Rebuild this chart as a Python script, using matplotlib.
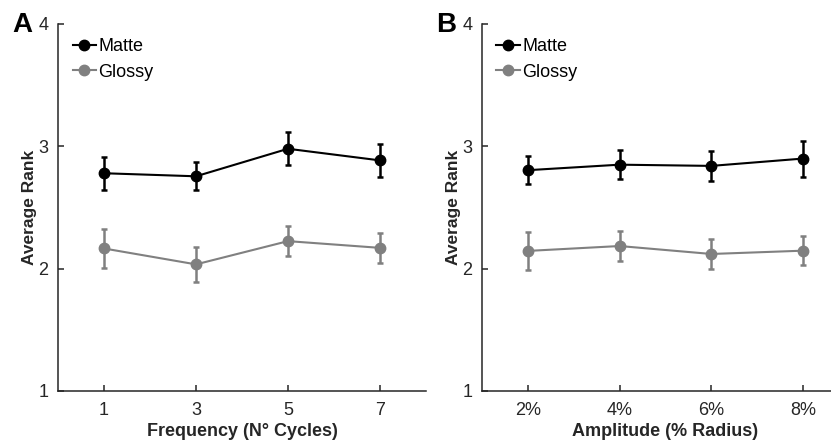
import matplotlib
matplotlib.use("Agg")
import matplotlib.pyplot as plt
from matplotlib.lines import Line2D

plt.rcParams['font.family'] = ['Liberation Sans', 'DejaVu Sans']

# Panel A: frequency conditions
freq_x = [1, 3, 5, 7]
freq_labels = ["1", "3", "5", "7"]
freq_matte = [2.78, 2.755, 2.98, 2.885]
freq_matte_err = [0.135, 0.115, 0.135, 0.135]
freq_glossy = [2.165, 2.035, 2.225, 2.17]
freq_glossy_err = [0.16, 0.14, 0.12, 0.125]

# Panel B: amplitude conditions
amp_x = [1, 2, 3, 4]
amp_labels = ["2%", "4%", "6%", "8%"]
amp_matte = [2.805, 2.85, 2.84, 2.9]
amp_matte_err = [0.117, 0.12, 0.12, 0.147]
amp_glossy = [2.145, 2.185, 2.12, 2.147]
amp_glossy_err = [0.155, 0.12, 0.12, 0.12]

MATTE_C = "#000000"
GLOSSY_C = "#808080"
AX_C = "#262626"

fig = plt.figure(figsize=(8.31, 4.41), dpi=100)
axA = fig.add_axes([0.0698, 0.1134, 0.4428, 0.8322])
axB = fig.add_axes([0.5800, 0.1134, 0.4416, 0.8322])


def draw_panel(ax, x, matte, matte_err, glossy, glossy_err, labels, xlim, xlabel, letter):
    for y, e, c in [(matte, matte_err, MATTE_C), (glossy, glossy_err, GLOSSY_C)]:
        ax.errorbar(x, y, yerr=e, color=c, ecolor=c, lw=1.5, elinewidth=1.8,
                    capsize=2.5, capthick=1.8, marker='o', markersize=7.5,
                    markeredgecolor=c, markerfacecolor=c, clip_on=False)
    ax.set_xlim(*xlim)
    ax.set_ylim(1, 4)
    ax.set_yticks([1, 2, 3, 4])
    ax.set_xticks(x)
    ax.set_xticklabels(labels)
    for s in ['top', 'right']:
        ax.spines[s].set_visible(False)
    for s in ['left', 'bottom']:
        ax.spines[s].set_color(AX_C)
        ax.spines[s].set_linewidth(1.1)
    ax.tick_params(direction='in', length=4, width=1.1, color=AX_C,
                   labelcolor=AX_C, labelsize=13)
    ax.tick_params(axis='x', pad=8)
    ax.tick_params(axis='y', pad=7)
    ax.set_ylabel("Average Rank", fontsize=12.5, fontweight='bold', color=AX_C, labelpad=1)
    ax.set_xlabel(xlabel, fontsize=13, fontweight='bold', color=AX_C, labelpad=3)
    handles = [
        Line2D([], [], color=MATTE_C, lw=1.5, marker='o', markersize=7.5),
        Line2D([], [], color=GLOSSY_C, lw=1.5, marker='o', markersize=7.5),
    ]
    ax.legend(handles, ["Matte", "Glossy"], loc='upper left', frameon=False,
              fontsize=13, handlelength=1.3, handletextpad=0.12,
              labelspacing=0.45, borderaxespad=0.2, bbox_to_anchor=(0.01, 0.99))
    ax.text(-0.098, 0.997, letter, transform=ax.transAxes, fontsize=20,
            fontweight='bold', ha='center', va='center', color='black')


draw_panel(axA, freq_x, freq_matte, freq_matte_err, freq_glossy, freq_glossy_err,
           freq_labels, (0, 8), "Frequency (N\u00b0 Cycles)", "A")
draw_panel(axB, amp_x, amp_matte, amp_matte_err, amp_glossy, amp_glossy_err,
           amp_labels, (0.5, 4.5), "Amplitude (% Radius)", "B")

fig.savefig("out.png", dpi=100)
